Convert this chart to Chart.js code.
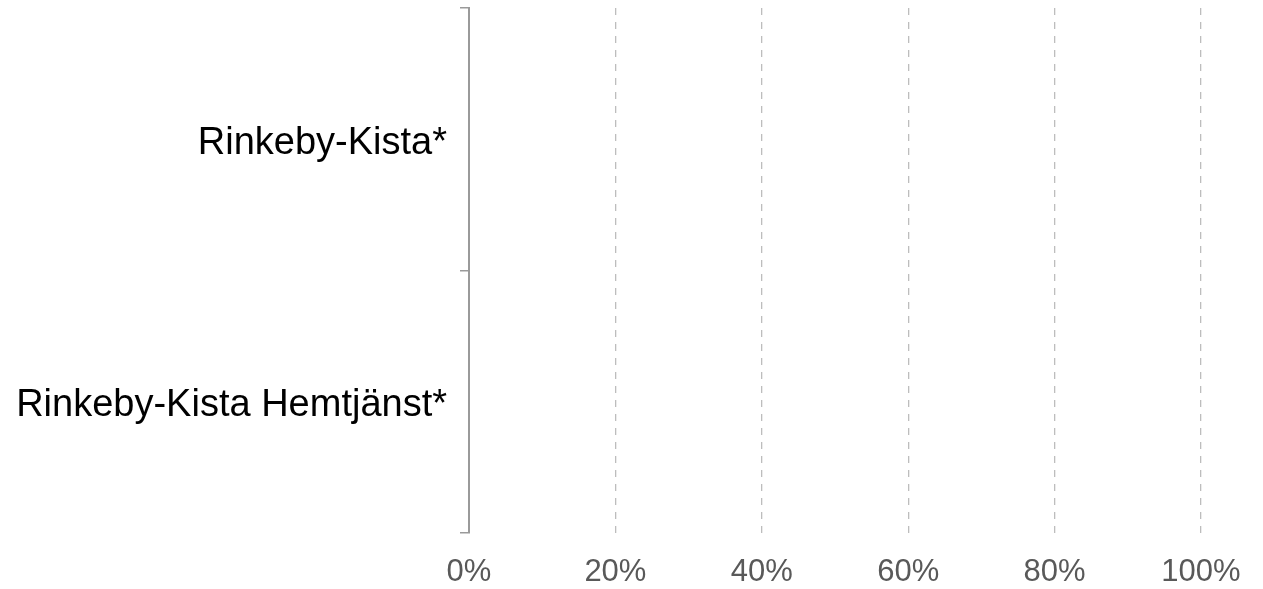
<!DOCTYPE html>
<html>
<head>
<meta charset="utf-8">
<script src="https://cdn.jsdelivr.net/npm/chart.js@4/dist/chart.umd.min.js"></script>
<style>
body{margin:0;background:#fff}
</style>
</head>
<body>
<canvas id="chart" width="1263" height="589"></canvas>
<script>
let categories = ["Rinkeby-Kista*", "Rinkeby-Kista Hemtjänst*"]
let values = [0, 0]
let xTicks = [0, 20, 40, 60, 80, 100]

let ctx = document.getElementById("chart")
let chart = new Chart(ctx, {
  type: 'bar',
  data: {
    labels: categories,
    datasets: [{
      data: values,
      backgroundColor: '#4472c4',
      borderWidth: 0
    }]
  },
  options: {
    indexAxis: 'y',
    responsive: false,
    animation: false,
    layout: {
      padding: { top: 8, right: 62, left: 0, bottom: 0 }
    },
    plugins: {
      legend: { display: false },
      tooltip: { enabled: false }
    },
    scales: {
      x: {
        min: xTicks[0],
        max: xTicks[xTicks.length - 1],
        afterBuildTicks: function(scale) {
          scale.ticks = xTicks.map(v => ({ value: v }))
        },
        // keep plot bottom at the same place as the original
        afterFit: function(scale) {
          scale.height = 56
          scale.paddingLeft = 0
          scale.paddingRight = 0
        },
        border: { display: false, dash: [7, 7] },
        grid: {
          color: '#bdbdbd',
          lineWidth: 1.3,
          drawTicks: false
        },
        ticks: {
          padding: 21,
          color: '#595959',
          font: { family: 'Liberation Sans, Arial', size: 31 },
          callback: function(v) { return v + '%' }
        }
      },
      y: {
        afterFit: function(scale) {
          scale.width = 469
          scale.paddingTop = 0
          scale.paddingBottom = 0
        },
        border: { display: true, color: '#9a9a9a', width: 2 },
        grid: {
          drawOnChartArea: false,
          tickLength: 9,
          color: '#9a9a9a',
          lineWidth: 1.5
        },
        ticks: {
          padding: 13,
          labelOffset: 4,
          color: '#000',
          font: { family: 'Liberation Sans, Arial', size: 38 }
        }
      }
    }
  }
})
</script>
</body>
</html>
